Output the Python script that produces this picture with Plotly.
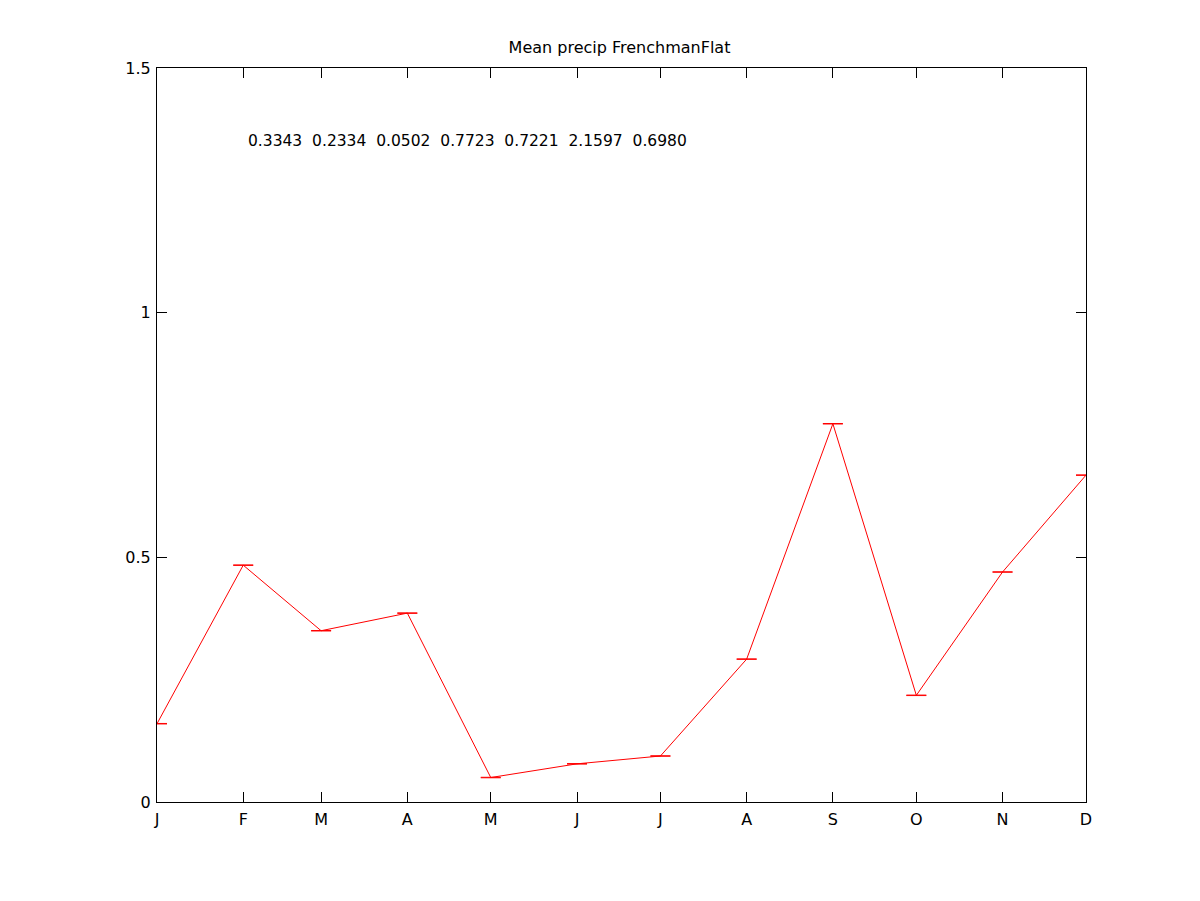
import plotly.graph_objects as go

# Day-of-year at the start of each month (x positions)
month_days = [1, 32, 60, 91, 121, 152, 182, 213, 244, 274, 305, 335]
month_labels = ["J", "F", "M", "A", "M", "J", "J", "A", "S", "O", "N", "D"]
mean_precip = [0.160, 0.484, 0.350, 0.386, 0.050, 0.078, 0.094, 0.292, 0.773, 0.218, 0.470, 0.668]
err = [0.0005] * 12
stats_text = "0.3343  0.2334  0.0502  0.7723  0.7221  2.1597  0.6980"
y_ticks = [0, 0.5, 1, 1.5]
y_tick_labels = ["0", "0.5", "1", "1.5"]

FONT = "DejaVu Sans, Liberation Sans, sans-serif"

fig = go.Figure()
fig.add_trace(go.Scatter(
    x=month_days, y=mean_precip, mode="lines",
    line=dict(color="red", width=1),
    error_y=dict(type="data", array=err, visible=True, color="red", thickness=1, width=10),
    showlegend=False,
))

fig.add_annotation(
    x=33, y=1.35, xref="x", yref="y", xanchor="left", yanchor="middle",
    text=stats_text.replace(" ", "\u00a0"), showarrow=False,
    font=dict(family=FONT, size=15.5, color="black"),
)

axis_common = dict(
    showgrid=False, zeroline=False, showline=True, linecolor="black", linewidth=1,
    mirror="allticks", ticks="inside", ticklen=10, tickcolor="black", tickwidth=1,
    tickfont=dict(family=FONT, size=16, color="black"),
)

fig.update_xaxes(range=[1, 335], tickmode="array", tickvals=month_days, ticktext=month_labels,
                 ticklabelstandoff=3, **axis_common)
fig.update_yaxes(range=[0, 1.5], tickmode="array", tickvals=y_ticks, ticktext=y_tick_labels,
                 ticklabelstandoff=2, **axis_common)

fig.update_layout(
    width=1200, height=901,
    margin=dict(l=149, r=122, t=60, b=107),
    paper_bgcolor="white", plot_bgcolor="white",
    title=dict(text="Mean precip FrenchmanFlat", x=0.5096, xanchor="center", y=0.9567, yanchor="middle",
               font=dict(family=FONT, size=16, color="black")),
)

fig.write_html("out.html")
